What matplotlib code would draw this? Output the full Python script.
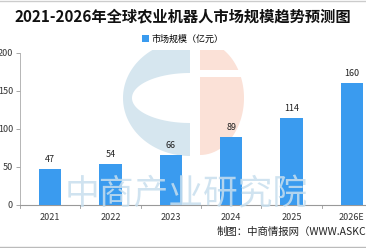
import matplotlib
matplotlib.use("Agg")
import matplotlib.pyplot as plt
from matplotlib.patches import Wedge, Ellipse, Rectangle
from matplotlib.lines import Line2D
import numpy as np

plt.rcParams['font.family'] = ['Noto Sans CJK SC', 'DejaVu Sans']

categories = ["2021", "2022", "2023", "2024", "2025", "2026E"]
values = [47, 54, 66, 89, 114, 160]
series_name = "市场规模（亿元）"
title = "2021-2026年全球农业机器人市场规模趋势预测图"
source = "制图：中商情报网（WWW.ASKCI.COM）"
yticks = [0, 50, 100, 150, 200]

W, H = 366, 248
fig = plt.figure(figsize=(W / 100, H / 100), dpi=100)

def fx(px):
    return px / W

def fy(py):
    return 1 - py / H

# watermark logo (pixel coordinates, clipped at y=50)
wm = fig.add_axes([0, 0, 1, fy(50)], zorder=0)
wm.set_xlim(0, W)
wm.set_ylim(H, 50)
wm.axis('off')

def half_ellipse(xc, yc, rx, ry, side, color):
    t = np.linspace(-np.pi / 2, np.pi / 2, 100)
    xs = xc + side * rx * np.cos(t)
    ys = yc + ry * np.sin(t)
    wm.fill(xs, ys, color=color, lw=0)

half_ellipse(190, 98, 67, 58, -1, '#D6E6EF')
half_ellipse(190, 98, 58, 25, -1, 'white')
half_ellipse(200, 98, 44, 57, 1, '#FBE1D7')
wm.add_patch(Rectangle((200, 70), 50, 7, facecolor='white', edgecolor='none'))

ax = fig.add_axes([fx(20), fy(205), fx(362), fy(53) - fy(205)], zorder=1)
ax.patch.set_alpha(0)
x = list(range(len(categories)))
bars = ax.bar(x, values, width=0.37, color='#3A9BEF', label=series_name, zorder=3)
for xi, v in zip(x, values):
    ax.text(xi, v + 7, str(v), ha='center', va='bottom', fontsize=6.5, color='#222222', zorder=4)

ax.set_xlim(-0.5, len(categories) - 0.5)
ax.set_ylim(0, 200)
ax.set_yticks(yticks)
ax.set_yticklabels([str(t) for t in yticks], fontsize=6.5, color='#333333')
ax.set_xticks(x)
ax.set_xticklabels(categories, fontsize=6.5, color='#333333')
ax.tick_params(axis='x', length=0, pad=6)
ax.tick_params(axis='y', length=3, width=0.6, color='#999999', pad=2)
for xb in [i - 0.5 for i in range(len(categories) + 1)]:
    ax.plot([xb, xb], [0, -4], color='#999999', lw=0.6, clip_on=False, zorder=2)
for s in ['top', 'right']:
    ax.spines[s].set_visible(False)
ax.spines['left'].set_color('#AAAAAA')
ax.spines['bottom'].set_color('#999999')
ax.spines['left'].set_linewidth(0.6)
ax.spines['bottom'].set_linewidth(0.8)

# watermark text
fig.text(fx(186), fy(195), "中商产业研究院", fontsize=25, color='#C8DFEE', ha='center', va='center',
         alpha=0.85, zorder=2)

fig.text(0.5, fy(16), title, ha='center', va='center', fontsize=11, fontweight='bold', color='#111111')

leg = fig.legend(handles=[bars], labels=[series_name], loc='center', bbox_to_anchor=(fx(183), fy(39)),
                 frameon=False, fontsize=6.5, handlelength=0.7, handleheight=0.7, handletextpad=0.3)

fig.text(fx(217), fy(232), source, ha='left', va='center', fontsize=7.5, color='#222222')

fig.add_artist(Line2D([0, 1], [fy(246.5), fy(246.5)], color='#BBBBBB', lw=1))
fig.add_artist(Line2D([0, 1], [fy(0.5), fy(0.5)], color='#CCCCCC', lw=1))

fig.savefig("out.png", dpi=100)
